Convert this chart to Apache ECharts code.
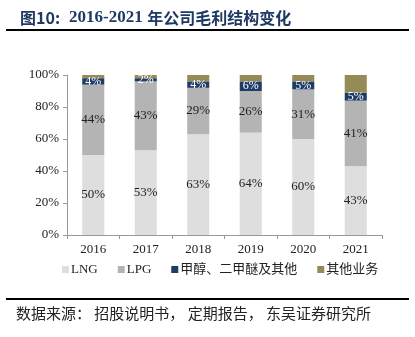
<!DOCTYPE html>
<html>

<head>
  <meta charset="utf-8">
  <title>2016-2021 年公司毛利结构变化</title>
  <script src="https://cdn.jsdelivr.net/npm/echarts@6/dist/echarts.min.js"></script>
  <style>
    html, body { margin: 0; padding: 0; background: #fff; }
  </style>
</head>

<body>
  <div id="main" style="width: 415px; height: 337px;"></div>
  <script type="text/javascript">
    // 数据
    var years = ['2016', '2017', '2018', '2019', '2020', '2021'];
    var lng = [50, 53, 63, 64, 60, 43];
    var lpg = [44, 43, 29, 26, 31, 41];
    var methanol = [4, 2, 4, 6, 5, 5];
    var otherBiz = [2, 2, 4, 4, 4, 11];
    var yTicks = ['0%', '20%', '40%', '60%', '80%', '100%'];

    var serif = '"Liberation Serif", "Noto Sans CJK SC", serif';
    var myChart = echarts.init(document.getElementById('main'));

    function pct(p) { return p.value + '%'; }

    myChart.setOption({
      animation: false,
      textStyle: { fontFamily: serif },
      title: {
        left: 15,
        top: 4,
        text: '{a|图10:}  {b|2016-2021} {a|年公司毛利结构变化}',
        textStyle: {
          rich: {
            a: { fontFamily: '"Noto Sans CJK SC"', fontWeight: 'bold', fontSize: 16, color: '#1f3864' },
            b: { fontFamily: serif, fontWeight: 'bold', fontSize: 17, color: '#1f3864' }
          }
        }
      },
      graphic: [
        { type: 'line', shape: { x1: 6, y1: 30, x2: 409, y2: 30 }, style: { stroke: '#000', lineWidth: 2 } },
        { type: 'line', shape: { x1: 6, y1: 299, x2: 409, y2: 299 }, style: { stroke: '#000', lineWidth: 2 } },
        {
          type: 'text', left: 16, top: 306,
          style: { text: '数据来源： 招股说明书， 定期报告， 东吴证券研究所', font: '15px "Noto Sans CJK SC"', fill: '#222' }
        }
      ],
      legend: {
        top: 258,
        left: 57,
        itemWidth: 7,
        itemHeight: 7,
        itemGap: 20,
        icon: 'rect',
        textStyle: { fontSize: 13, color: '#222', fontFamily: serif, padding: [0, 0, 0, -3] },
        data: ['LNG', 'LPG', '甲醇、二甲醚及其他', '其他业务']
      },
      grid: { left: 67, right: 33, top: 75, bottom: 102, containLabel: false },
      xAxis: {
        type: 'category',
        data: years,
        axisLine: { lineStyle: { color: '#999' } },
        axisTick: { show: true, length: 4, lineStyle: { color: '#999' } },
        axisLabel: { color: '#222', fontSize: 13, margin: 8, fontFamily: serif }
      },
      yAxis: {
        type: 'value',
        min: 0,
        max: 100,
        interval: 20,
        axisLine: { show: true, lineStyle: { color: '#999' } },
        axisTick: { show: true, length: 4, lineStyle: { color: '#999' } },
        splitLine: { show: false },
        axisLabel: {
          color: '#222', fontSize: 13, margin: 8, fontFamily: serif,
          formatter: function (v) { return yTicks[v / 20]; }
        }
      },
      series: [
        {
          name: 'LNG', type: 'bar', stack: 'gp', data: lng, barWidth: '42%',
          itemStyle: { color: '#dedede' },
          label: { show: true, formatter: pct, color: '#222', fontSize: 13, fontFamily: serif }
        },
        {
          name: 'LPG', type: 'bar', stack: 'gp', data: lpg,
          itemStyle: { color: '#b4b4b4' },
          label: { show: true, formatter: pct, color: '#222', fontSize: 13, fontFamily: serif }
        },
        {
          name: '甲醇、二甲醚及其他', type: 'bar', stack: 'gp', data: methanol,
          itemStyle: { color: '#1f3c68' },
          label: { show: true, formatter: pct, color: '#fff', fontSize: 12, fontFamily: serif }
        },
        {
          name: '其他业务', type: 'bar', stack: 'gp', data: otherBiz,
          itemStyle: { color: '#958b56' },
          label: { show: false }
        }
      ]
    });
  </script>
</body>

</html>
